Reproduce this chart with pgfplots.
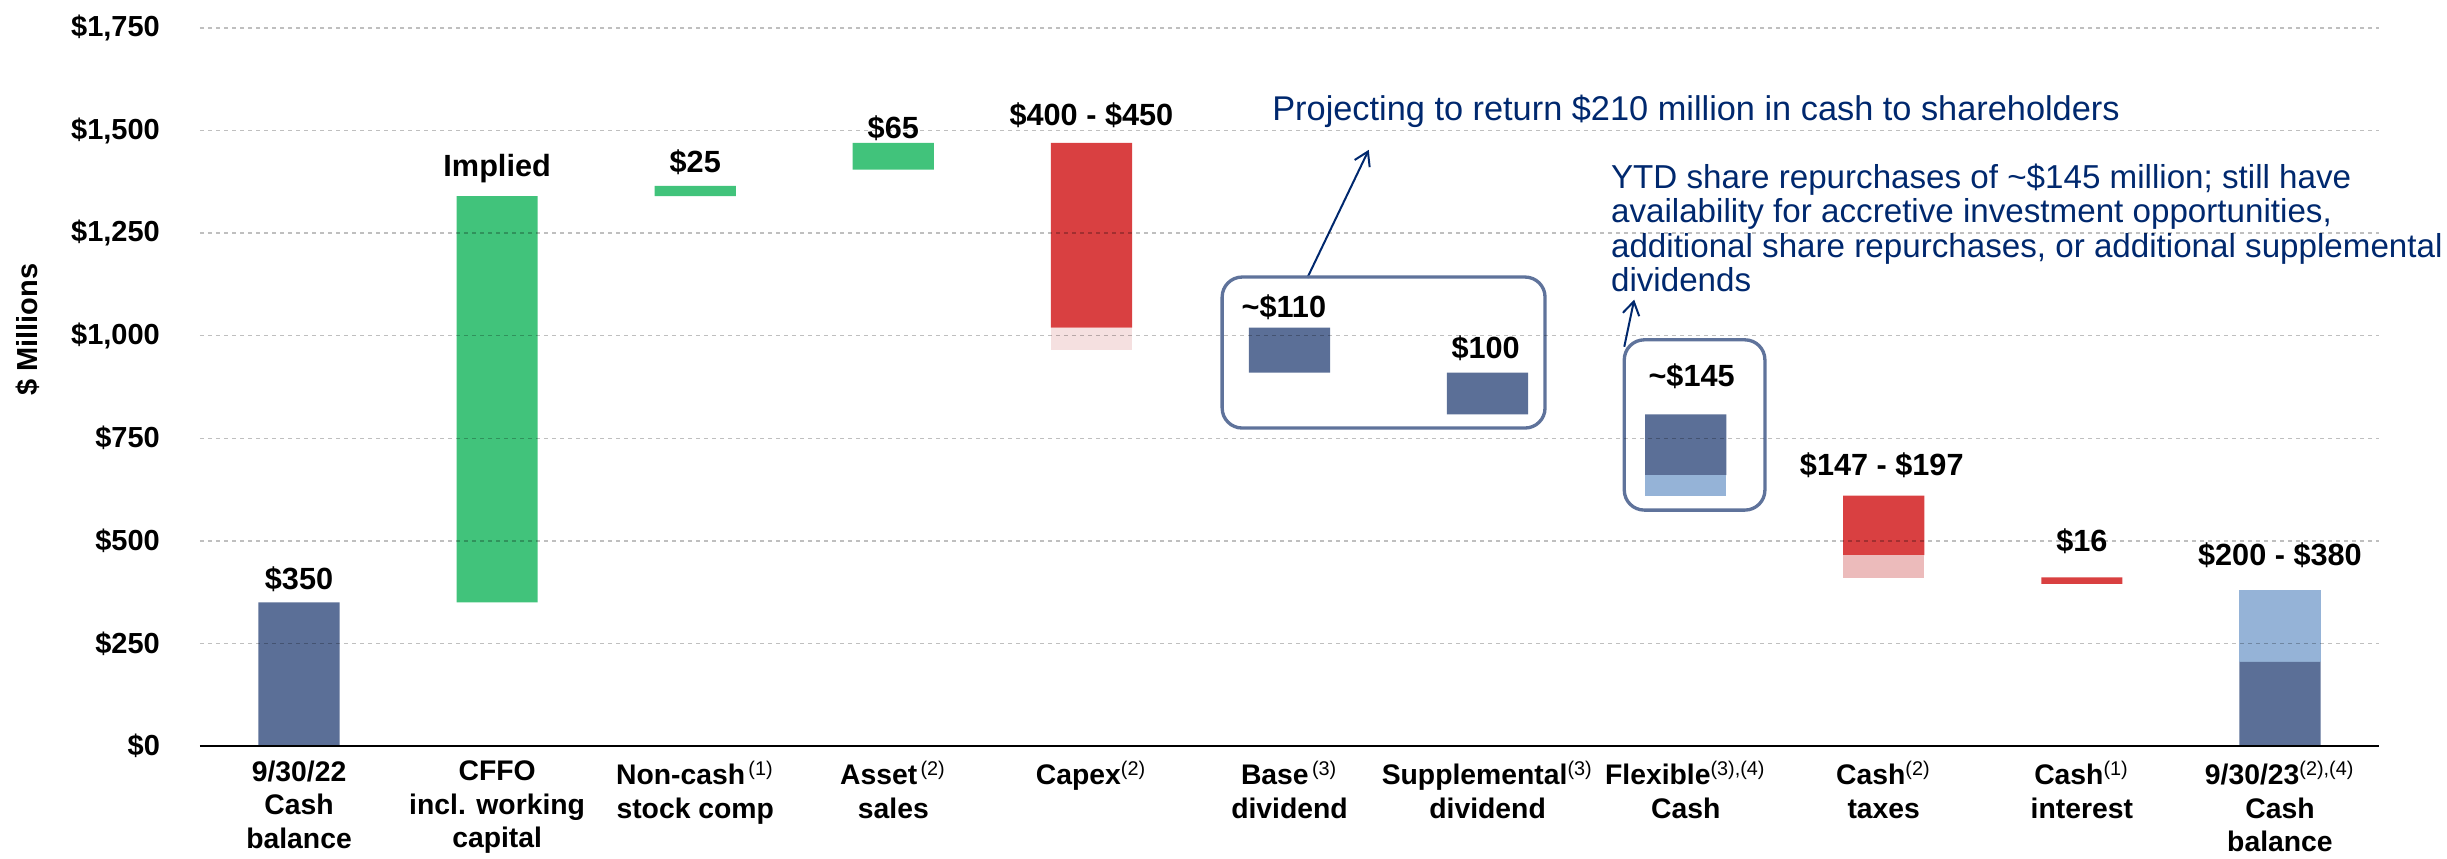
\documentclass[border=0pt]{standalone}
\usepackage{fontspec}
\setmainfont{Liberation Sans}
\usepackage{pgfplots}
\pgfplotsset{compat=1.18}
\usetikzlibrary{arrows.meta}
\definecolor{dblue}{RGB}{91,111,151}
\definecolor{cgreen}{RGB}{65,195,123}
\definecolor{cred}{RGB}{217,64,65}
\definecolor{pinkA}{RGB}{245,224,224}
\definecolor{pinkB}{RGB}{236,187,187}
\definecolor{lblue}{RGB}{149,179,215}
\definecolor{navy}{RGB}{0,40,110}
\definecolor{boxc}{RGB}{95,115,155}
\tikzset{blab/.style={font=\fontsize{9.2}{11}\selectfont\bfseries, inner sep=0pt}}
\newcommand{\sups}[1]{\textsuperscript{\mdseries\,#1}}
\begin{document}
\begin{tikzpicture}
\useasboundingbox (0,0) rectangle (734.1pt,257.4pt);
\begin{axis}[
  at={(60pt,33.6pt)}, anchor=south west,
  scale only axis, width=653.7pt, height=215.4pt,
  clip=false,
  ybar stacked, bar width=0.41,
  xmin=-0.5, xmax=10.5, ymin=0, ymax=1750,
  enlargelimits=false,
  xtick={0,...,10},
  xticklabels={
    {9/30/22\\Cash\\balance},
    {CFFO\\incl. working\\capital},
    {Non-cash\sups{(1)}\\stock comp},
    {Asset\sups{(2)}\\sales},
    {Capex\textsuperscript{\mdseries(2)}},
    {Base\sups{(3)}\\dividend},
    {Supplemental\textsuperscript{\mdseries(3)}\\dividend},
    {Flexible\textsuperscript{\mdseries(3),(4)}\\Cash},
    {Cash\textsuperscript{\mdseries(2)}\\taxes},
    {Cash\textsuperscript{\mdseries(1)}\\interest},
    {9/30/23\textsuperscript{\mdseries(2),(4)}\\Cash\\balance}},
  xticklabel style={align=center, font=\fontsize{8.5}{10}\selectfont\bfseries, yshift=-1pt},
  ytick={0,250,500,750,1000,1250,1500,1750},
  yticklabels={\$0,\$250,\$500,\$750,{\$1,000},{\$1,250},{\$1,500},{\$1,750}},
  yticklabel style={font=\fontsize{8.7}{10}\selectfont\bfseries, xshift=-8.5pt},
  major tick length=0pt,
  axis lines*=left,
  y axis line style={draw=none},
  x axis line style={black, line width=0.8pt},
  ymajorgrids,
  grid style={black, opacity=0.25, line width=0.45pt, dash pattern=on 1.2pt off 1.2pt},
  axis on top,
]
% invisible base
\addplot[draw=none, fill=none] coordinates {(0,0) (1,350) (2,1340) (3,1405) (4,965) (5,910) (6,808) (7,610) (8,410) (9,395) (10,0)};
% capex light range
\addplot[draw=none, fill=pinkA] coordinates {(0,0) (1,0) (2,0) (3,0) (4,55) (5,0) (6,0) (7,0) (8,0) (9,0) (10,0)};
% tax light range
\addplot[draw=none, fill=pinkB] coordinates {(0,0) (1,0) (2,0) (3,0) (4,0) (5,0) (6,0) (7,0) (8,55) (9,0) (10,0)};
% flexible light
\addplot[draw=none, fill=lblue] coordinates {(0,0) (1,0) (2,0) (3,0) (4,0) (5,0) (6,0) (7,50) (8,0) (9,0) (10,0)};
% dark blue
\addplot[draw=none, fill=dblue] coordinates {(0,350) (1,0) (2,0) (3,0) (4,0) (5,110) (6,102) (7,148) (8,0) (9,0) (10,205)};
% green
\addplot[draw=none, fill=cgreen] coordinates {(0,0) (1,990) (2,25) (3,65) (4,0) (5,0) (6,0) (7,0) (8,0) (9,0) (10,0)};
% red
\addplot[draw=none, fill=cred] coordinates {(0,0) (1,0) (2,0) (3,0) (4,450) (5,0) (6,0) (7,0) (8,145) (9,16) (10,0)};
% final light blue top
\addplot[draw=none, fill=lblue] coordinates {(0,0) (1,0) (2,0) (3,0) (4,0) (5,0) (6,0) (7,0) (8,0) (9,0) (10,175)};

\node[blab] at (axis cs:0,407) {\$350};
\node[blab] at (axis cs:1,1407) {Implied};
\node[blab] at (axis cs:2,1422) {\$25};
\node[blab] at (axis cs:3,1506) {\$65};
\node[blab] at (axis cs:4,1537) {\$400 - \$450};
\node[blab, anchor=west] at (axis cs:4.755,1069) {\textasciitilde\$110};
\node[blab] at (axis cs:5.99,970) {\$100};
\node[blab] at (axis cs:7.03,901) {\textasciitilde\$145};
\node[blab] at (axis cs:7.99,685) {\$147 - \$197};
\node[blab] at (axis cs:9,498) {\$16};
\node[blab] at (axis cs:10,464) {\$200 - \$380};

\draw[boxc, line width=1pt, rounded corners=6pt] (axis cs:4.66,775) rectangle (axis cs:6.29,1143);
\draw[boxc, line width=1pt, rounded corners=6pt] (axis cs:6.69,575) rectangle (axis cs:7.40,990);

\draw[navy, line width=0.6pt, -{Straight Barb[length=4pt,width=5pt]}] (axis cs:5.09,1141) -- (axis cs:5.40,1453);
\draw[navy, line width=0.6pt, -{Straight Barb[length=4pt,width=5pt]}] (axis cs:6.69,973) -- (axis cs:6.74,1088);

\node[navy, anchor=west, inner sep=0pt, font=\fontsize{10.3}{11}\selectfont] at (axis cs:4.91,1548) {Projecting to return \$210 million in cash to shareholders};
\node[navy, anchor=north west, align=left, inner sep=0pt, font=\fontsize{9.95}{10.3}\selectfont] at (axis cs:6.62,1420) {YTD share repurchases of \textasciitilde\$145 million; still have\\availability for accretive investment opportunities,\\additional share repurchases, or additional supplemental\\dividends};

\node[rotate=90, font=\fontsize{8.7}{10}\selectfont\bfseries, inner sep=0pt] at (rel axis cs:-0.079,0.58) {\$ Millions};
\end{axis}
\end{tikzpicture}
\end{document}
